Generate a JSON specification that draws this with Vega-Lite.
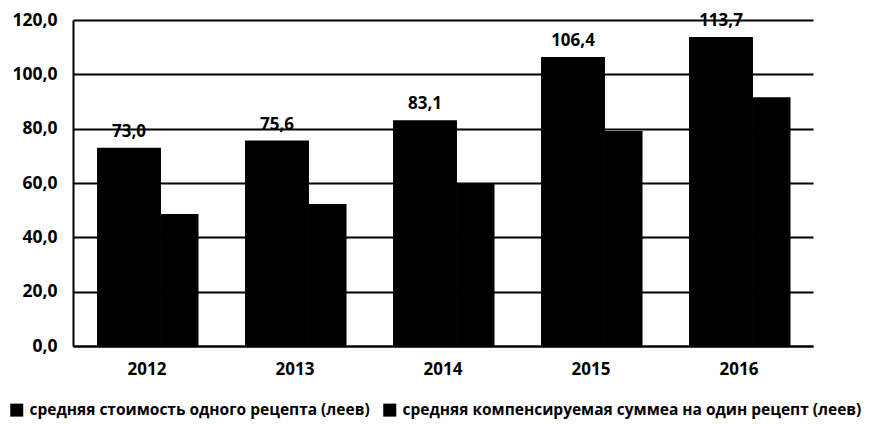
{
  "$schema": "https://vega.github.io/schema/vega-lite/v6.json",
  "width": 740,
  "height": 326,
  "autosize": {"type": "none"},
  "padding": {"left": 73, "top": 20, "right": 67, "bottom": 78},
  "background": "white",
  "config": {
    "locale": {"number": {"decimal": ",", "thousands": " ", "grouping": [3], "currency": ["", ""]}},
    "font": "Open Sans",
    "view": {"stroke": null},
    "axis": {"labelFont": "Open Sans", "labelFontWeight": "bold", "labelColor": "#000"}
  },
  "data": {
    "values": [
      {"year": "2012", "series": "средняя стоимость одного рецепта  (леев)", "value": 73.0},
      {"year": "2013", "series": "средняя стоимость одного рецепта  (леев)", "value": 75.6},
      {"year": "2014", "series": "средняя стоимость одного рецепта  (леев)", "value": 83.1},
      {"year": "2015", "series": "средняя стоимость одного рецепта  (леев)", "value": 106.4},
      {"year": "2016", "series": "средняя стоимость одного рецепта  (леев)", "value": 113.7},
      {"year": "2012", "series": "средняя компенсируемая  суммеа на один рецепт (леев)", "value": 48.6},
      {"year": "2013", "series": "средняя компенсируемая  суммеа на один рецепт (леев)", "value": 52.3},
      {"year": "2014", "series": "средняя компенсируемая  суммеа на один рецепт (леев)", "value": 60.0},
      {"year": "2015", "series": "средняя компенсируемая  суммеа на один рецепт (леев)", "value": 79.1},
      {"year": "2016", "series": "средняя компенсируемая  суммеа на один рецепт (леев)", "value": 91.6}
    ]
  },
  "encoding": {
    "x": {
      "field": "year", "type": "ordinal", "title": null,
      "scale": {"paddingInner": 0, "paddingOuter": 0},
      "axis": {"labelAngle": 0, "ticks": false, "labelPadding": 15, "labelFontSize": 17,
               "domainColor": "#000", "domainWidth": 2, "grid": false}
    },
    "y": {
      "field": "value", "type": "quantitative", "title": null,
      "scale": {"domain": [0, 120]},
      "axis": {"values": [0, 20, 40, 60, 80, 100, 120], "format": ".1f", "ticks": false,
               "labelPadding": 16, "labelFontSize": 17.5, "domainColor": "#000", "domainWidth": 2,
               "gridColor": "#000", "gridWidth": 2, "gridOpacity": 1}
    }
  },
  "layer": [
    {
      "transform": [{"filter": "datum.series === 'средняя стоимость одного рецепта  (леев)'"}],
      "mark": {"type": "bar", "width": {"band": 0.432}, "xOffset": -18},
      "encoding": {
        "color": {
          "field": "series", "type": "nominal", "title": null,
          "scale": {"domain": ["средняя стоимость одного рецепта  (леев)", "средняя компенсируемая  суммеа на один рецепт (леев)"], "range": ["#000000", "#000000"]},
          "legend": {"orient": "none", "legendX": -64, "legendY": 382, "direction": "horizontal",
                     "symbolType": "square", "symbolSize": 169, "symbolStrokeWidth": 0,
                     "labelFont": "Open Sans", "labelFontWeight": "bold", "labelFontSize": 15.5,
                     "labelColor": "#000", "labelLimit": 0, "labelOffset": 5, "columnPadding": 8, "symbolOffset": 0}
        }
      }
    },
    {
      "transform": [{"filter": "datum.series === 'средняя компенсируемая  суммеа на один рецепт (леев)'"}],
      "mark": {"type": "bar", "width": {"band": 0.257}, "xOffset": 32.5},
      "encoding": {"color": {"field": "series", "type": "nominal"}}
    },
    {
      "transform": [{"filter": "datum.series === 'средняя стоимость одного рецепта  (леев)'"}],
      "mark": {"type": "text", "xOffset": -18, "baseline": "bottom", "dy": -7, "font": "Open Sans",
               "fontWeight": "bold", "fontSize": 17, "color": "#000"},
      "encoding": {"text": {"field": "value", "type": "quantitative", "format": ".1f"}}
    }
  ]
}
